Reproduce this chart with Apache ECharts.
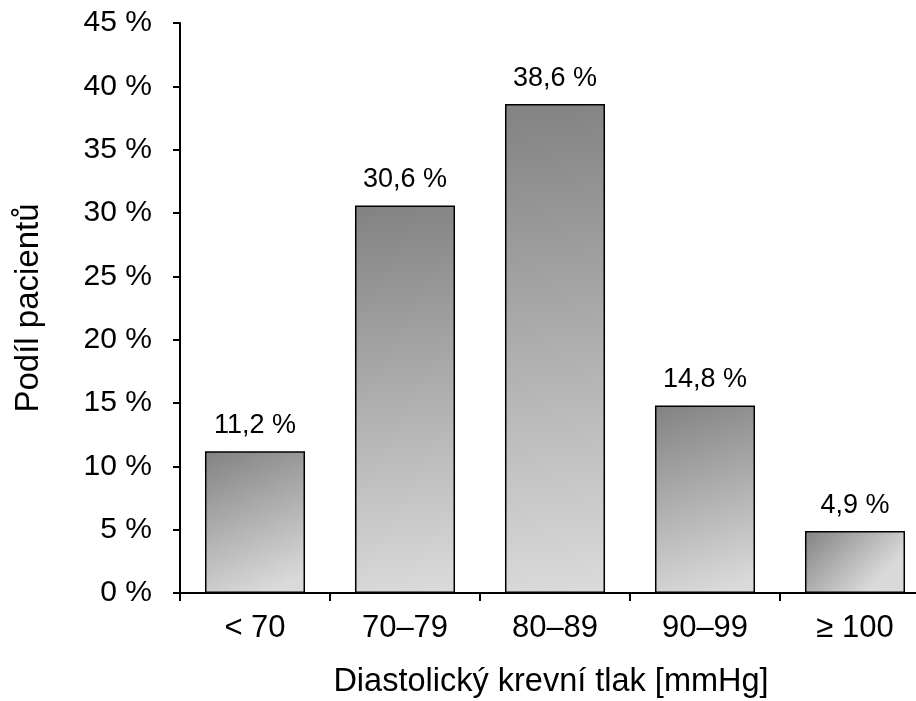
<!DOCTYPE html>
<html><head><meta charset="utf-8">
<script src="https://cdn.jsdelivr.net/npm/echarts@6/dist/echarts.min.js"></script>
<style>html,body{margin:0;padding:0;background:#fff}#c{width:916px;height:701px}</style>
</head><body><div id="c"></div>
<script>
const categories = ['< 70', '70–79', '80–89', '90–99', '≥ 100'];
const values = [11.2, 30.6, 38.6, 14.8, 4.9];
const yTicks = [0, 5, 10, 15, 20, 25, 30, 35, 40, 45];

const font = '"Liberation Sans", Arial, sans-serif';
const chart = echarts.init(document.getElementById('c'));
chart.setOption({
  animation: false,
  grid: { left: 180, top: 23, width: 750, height: 570, outerBoundsMode: 'none', containLabel: false },
  xAxis: {
    type: 'category', data: categories,
    name: 'Diastolický krevní tlak [mmHg]', nameLocation: 'middle', nameGap: 73,
    nameTextStyle: { fontFamily: font, fontSize: 32.5, color: '#000', padding: [0, 8, 0, 0] },
    axisLine: { lineStyle: { color: '#000', width: 2 } },
    axisTick: { show: true, length: 8, lineStyle: { color: '#000', width: 2 } },
    axisLabel: { fontFamily: font, fontSize: 31, color: '#000', margin: 20 }
  },
  yAxis: {
    type: 'value', min: yTicks[0], max: yTicks[yTicks.length - 1], interval: 5,
    name: 'Podíl pacientů', nameLocation: 'middle', nameGap: 135,
    nameTextStyle: { fontFamily: font, fontSize: 33, color: '#000' },
    axisLine: { show: true, lineStyle: { color: '#000', width: 2 } },
    axisTick: { show: true, length: 7, lineStyle: { color: '#000', width: 2 } },
    splitLine: { show: false },
    axisLabel: { fontFamily: font, fontSize: 30, color: '#000', margin: 28, formatter: v => v + ' %' }
  },
  series: [{
    type: 'bar', data: values, barCategoryGap: '33.3%',
    itemStyle: {
      borderColor: '#000', borderWidth: 1.5,
      color: new echarts.graphic.LinearGradient(0, 0, 0.6, 1, [
        { offset: 0, color: '#828282' },
        { offset: 1, color: '#dadada' }
      ])
    },
    label: {
      show: true, position: 'top', distance: 12,
      fontFamily: font, fontSize: 27, color: '#000',
      formatter: p => p.value.toFixed(1).replace('.', ',') + ' %'
    }
  }]
});
</script></body></html>
